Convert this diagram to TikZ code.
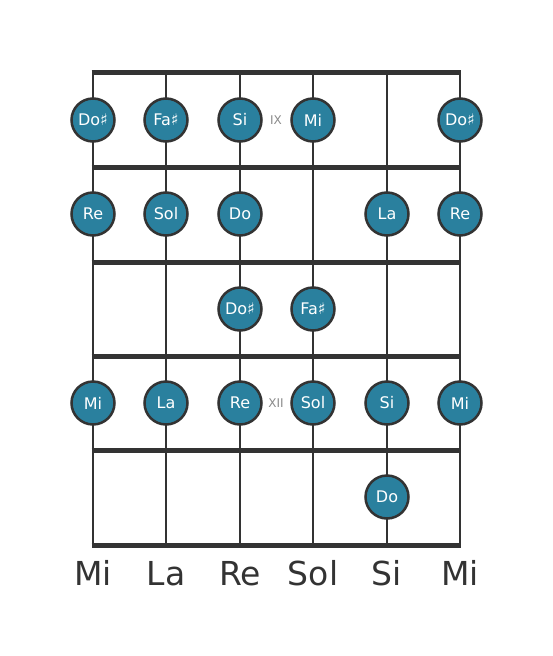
\documentclass[tikz,border=0pt]{standalone}
\usepackage{fontspec}
\setmainfont{DejaVu Sans}
\definecolor{linec}{HTML}{333333}
\definecolor{notec}{HTML}{2A809E}
\definecolor{markc}{HTML}{8A8A8A}
\begin{document}
\begin{tikzpicture}[x=1pt,y=-1pt,
  stringline/.style={draw=linec,line width=2.8pt},
  fretline/.style={draw=linec,line width=5pt,line cap=butt},
  note/.style={circle,fill=notec,draw=linec,line width=2.5pt,minimum size=43pt,inner sep=0pt,text=white,font=\fontsize{16}{16}\selectfont},
  strlabel/.style={text=linec,font=\fontsize{33}{33}\selectfont,anchor=base},
  fretmark/.style={text=markc,font=\fontsize{12}{12}\selectfont}]
\useasboundingbox (0,0) rectangle (553,656);
% strings
\foreach \x [count=\i] in {93,166,240,313,387,460}{
  \coordinate (st\i) at (\x,72);
  \coordinate (sb\i) at (\x,545);
  \draw[stringline] (st\i) -- (sb\i);
}
% frets
\foreach \y [count=\j] in {72,167,262,356,450,545}{
  \coordinate (fl\j) at (91.6,\y);
  \coordinate (fr\j) at (461.4,\y);
  \draw[fretline] (fl\j) -- (fr\j);
}
% fret markers
\node[fretmark] (m9) at (276,120) {IX};
\node[fretmark] (m12) at (276,403) {XII};
% notes row 1
\node[note] (a1) at (93,120) {Do♯};
\node[note] (a2) at (166,120) {Fa♯};
\node[note] (a3) at (240,120) {Si};
\node[note] (a4) at (313,120) {Mi};
\node[note] (a6) at (460,120) {Do♯};
% row 2
\node[note] (b1) at (93,214) {Re};
\node[note] (b2) at (166,214) {Sol};
\node[note] (b3) at (240,214) {Do};
\node[note] (b5) at (387,214) {La};
\node[note] (b6) at (460,214) {Re};
% row 3
\node[note] (c3) at (240,309) {Do♯};
\node[note] (c4) at (313,309) {Fa♯};
% row 4
\node[note] (d1) at (93,403) {Mi};
\node[note] (d2) at (166,403) {La};
\node[note] (d3) at (240,403) {Re};
\node[note] (d4) at (313,403) {Sol};
\node[note] (d5) at (387,403) {Si};
\node[note] (d6) at (460,403) {Mi};
% row 5
\node[note] (e5) at (387,497) {Do};
% string names
\node[strlabel] (n1) at (93,585) {Mi};
\node[strlabel] (n2) at (166,585) {La};
\node[strlabel] (n3) at (240,585) {Re};
\node[strlabel] (n4) at (313,585) {Sol};
\node[strlabel] (n5) at (387,585) {Si};
\node[strlabel] (n6) at (460,585) {Mi};
\end{tikzpicture}
\end{document}
